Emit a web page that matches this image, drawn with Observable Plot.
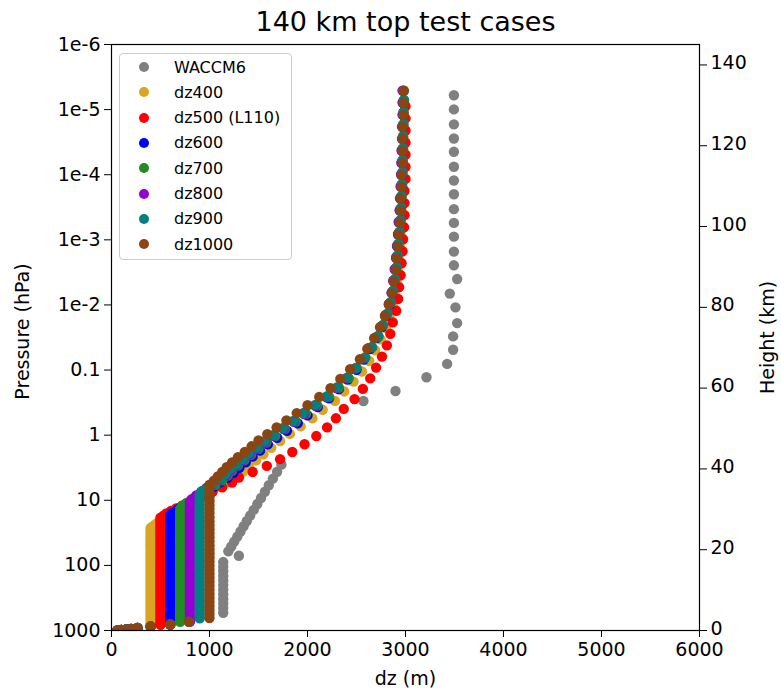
<!DOCTYPE html>
<html>
<head>
<meta charset="utf-8">
<script src="https://cdn.jsdelivr.net/npm/d3@7"></script>
<script src="https://cdn.jsdelivr.net/npm/@observablehq/plot@0.6"></script>
<style>
  body { margin: 0; background: #ffffff; }
  #wrap { position: relative; width: 781px; height: 692px; font-family: "DejaVu Sans", sans-serif; }
  #wrap svg { position: absolute; left: 0; top: 0; }
  #legend { position: absolute; left: 119px; top: 53px; width: 173px; height: 207px; box-sizing: border-box;
            border: 1px solid #cccccc; border-radius: 4px; background: rgba(255,255,255,0.8); }
  .item { position: absolute; left: 0; height: 20px; display: flex; align-items: center; font-size: 16px; color: #000; white-space: nowrap; }
  .sw { width: 10px; height: 10px; border-radius: 50%; margin-left: 19px; margin-right: 25px; }
</style>
</head>
<body>
<div id="wrap"></div>
<script>
// ---------------- data ----------------
const H_KM = 7; // scale height linking the pressure axis and the height axis

const seriesNames  = ["WACCM6", "dz400", "dz500 (L110)", "dz600", "dz700", "dz800", "dz900", "dz1000"];
const seriesColors = ["#808080", "#DAA520", "#FF0000", "#0000FF", "#228B22", "#9400D3", "#008080", "#8B4513"];

// WACCM6: visible points, height (km) and dz (m)
const waccmHeight = [4.4, 5.54, 6.68, 7.82, 8.96, 10.1, 11.24, 12.38, 13.52, 14.66, 15.8, 16.94,
  18.5, 19.6, 20.8, 22.0, 23.25, 24.5, 25.8, 27.1, 28.45, 29.85, 31.3, 32.8, 34.35, 35.95, 37.6, 39.3, 41.05,
  56.8, 59.3, 62.7, 66.0, 69.5, 72.8, 76.1, 80.0, 83.4, 87.0,
  90.4, 93.8, 97.5, 100.9, 104.3, 108.0, 111.4, 114.8, 118.5, 121.8, 125.3, 129.0, 132.5];
const waccmDz = [1140, 1140, 1140, 1140, 1140, 1140, 1140, 1140, 1140, 1140, 1140, 1140,
  1300, 1192, 1222, 1252, 1284, 1316, 1348, 1381, 1415, 1451, 1488, 1526, 1565, 1605, 1647, 1690, 1734,
  2571, 2898, 3214, 3425, 3486, 3486, 3527, 3510, 3452, 3527,
  3494, 3494, 3494, 3494, 3494, 3494, 3494, 3494, 3494, 3494, 3494, 3494, 3494];

// test grids: layer thickness dz (m) of every level, from the surface up
const dz400 = [60, 100, 150, 200, 265,
  400, 400, 400, 400, 400, 400, 400, 400, 400, 400,
  400, 400, 400, 400, 400, 400, 400, 400, 400, 400,
  400, 400, 400, 400, 400, 400, 400, 400, 400, 400,
  400, 400, 400, 400, 400, 400, 400, 400, 400, 400,
  400, 400, 400, 400, 400, 400, 400, 400, 400, 400,
  400, 400, 400, 400, 400, 400, 400, 400, 400, 400,
  400, 400,
  420, 445, 470, 505, 545, 580, 625, 670, 720, 775, 830, 895, 960, 1035, 1110, 1190, 1290, 1340, 1400,
  1475, 1550, 1630, 1720, 1820, 1930, 2050, 2155, 2280, 2375, 2470, 2555, 2630, 2690, 2745, 2800,
  2835, 2870, 2890, 2910, 2920, 2930, 2940, 2950, 2955, 2960, 2965, 2970, 2970, 2975, 2980, 2980,
  2980, 2980, 2985, 2985];

const dz500 = [60, 100, 150, 200, 265, 400,
  500, 500, 500, 500, 500, 500, 500, 500, 500, 500,
  500, 500, 500, 500, 500, 500, 500, 500, 500, 500,
  500, 500, 500, 500, 500, 500, 500, 500, 500, 500,
  500, 500, 500, 500, 500, 500, 500, 500, 500, 500,
  500, 500, 500, 500, 500, 500, 500, 500, 500, 500,
  500, 500, 500, 500,
  530, 560, 605, 660, 720, 790, 860, 940, 1030, 1130, 1230, 1300, 1440, 1585, 1720, 1845, 1970, 2090,
  2200, 2290, 2370, 2480, 2565, 2640, 2700, 2760, 2810, 2845, 2870, 2905, 2925, 2935, 2950, 2960,
  2970, 2975, 2985, 2990, 2990, 2990, 3000, 3000, 3000, 3000, 3000, 3000, 3000];

const dz600 = [60, 100, 150, 200, 265, 400,
  600, 600, 600, 600, 600, 600, 600, 600, 600, 600,
  600, 600, 600, 600, 600, 600, 600, 600, 600, 600,
  600, 600, 600, 600, 600, 600, 600, 600, 600, 600,
  600, 600, 600, 600, 600, 600, 600, 600, 600, 600,
  600, 600, 600, 600, 600, 600,
  620, 665, 700, 750, 800, 855, 915, 980, 1045, 1110, 1185, 1245, 1305, 1370, 1440, 1515, 1595, 1690,
  1790, 1900, 2000, 2105, 2220, 2320, 2410, 2500, 2575, 2640, 2705, 2760, 2800, 2835, 2860, 2880,
  2895, 2905, 2915, 2925, 2935, 2945, 2950, 2955, 2960, 2960, 2965, 2970, 2970, 2975, 2975, 2980];

const dz700 = [60, 100, 150, 200, 265, 400, 600,
  700, 700, 700, 700, 700, 700, 700, 700, 700, 700,
  700, 700, 700, 700, 700, 700, 700, 700, 700, 700,
  700, 700, 700, 700, 700, 700, 700, 700, 700, 700,
  700, 700, 700, 700, 700, 700, 700, 700, 700, 700,
  700,
  720, 765, 815, 865, 925, 990, 1060, 1130, 1185, 1230, 1290, 1355, 1425, 1500, 1580, 1670, 1770,
  1880, 1985, 2100, 2220, 2320, 2420, 2490, 2585, 2660, 2725, 2770, 2810, 2845, 2870, 2890, 2905,
  2915, 2925, 2935, 2945, 2950, 2955, 2960, 2965, 2970, 2970, 2975, 2975, 2980, 2980];

const dz800 = [60, 100, 150, 200, 265, 400, 600,
  800, 800, 800, 800, 800, 800, 800, 800, 800, 800,
  800, 800, 800, 800, 800, 800, 800, 800, 800, 800,
  800, 800, 800, 800, 800, 800, 800, 800, 800, 800,
  800, 800, 800, 800, 800, 800, 800, 800,
  825, 865, 915, 970, 1035, 1105, 1170, 1215, 1275, 1340, 1410, 1480, 1565, 1650, 1755, 1860, 1965,
  2080, 2195, 2295, 2390, 2480, 2570, 2620, 2695, 2755, 2795, 2830, 2860, 2875, 2890, 2905, 2915,
  2925, 2930, 2940, 2945, 2950, 2955, 2960, 2960, 2965, 2965, 2970, 2970, 2970];

const dz900 = [60, 100, 150, 200, 265, 400, 600, 790,
  900, 900, 900, 900, 900, 900, 900, 900, 900, 900,
  900, 900, 900, 900, 900, 900, 900, 900, 900, 900,
  900, 900, 900, 900, 900, 900, 900, 900, 900, 900,
  900, 900, 900, 900, 900,
  925, 985, 1050, 1120, 1165, 1210, 1275, 1340, 1405, 1480, 1560, 1655, 1750, 1860, 1960, 2080, 2200,
  2305, 2405, 2500, 2590, 2655, 2720, 2770, 2815, 2850, 2875, 2895, 2910, 2920, 2930, 2940, 2950,
  2955, 2960, 2965, 2970, 2970, 2975, 2975, 2980, 2980, 2985];

const dz1000 = [60, 100, 150, 200, 265, 400, 600, 790,
  1000, 1000, 1000, 1000, 1000, 1000, 1000, 1000, 1000, 1000,
  1000, 1000, 1000, 1000, 1000, 1000, 1000, 1000, 1000, 1000,
  1000, 1000, 1000, 1000, 1000, 1000, 1000, 1000, 1000, 1000,
  1000, 1000, 1000, 1000,
  1045, 1085, 1130, 1175, 1230, 1290, 1360, 1430, 1500, 1590, 1685, 1785, 1890, 2000, 2120, 2235,
  2335, 2435, 2535, 2610, 2680, 2740, 2790, 2830, 2860, 2880, 2900, 2910, 2920, 2930, 2940, 2950,
  2950, 2960, 2960, 2970, 2970, 2970, 2970, 2980, 2980, 2980];

// axes
const dzTicks = [0, 1000, 2000, 3000, 4000, 5000, 6000];
const pressureTicks  = [1000, 100, 10, 1, 0.1, 1e-2, 1e-3, 1e-4, 1e-5, 1e-6];
const pressureLabels = ["1000", "100", "10", "1", "0.1", "1e-2", "1e-3", "1e-4", "1e-5", "1e-6"];
const heightTicks = [0, 20, 40, 60, 80, 100, 120, 140];

const titleText = "140 km top test cases";
const xLabel = "dz (m)";
const yLabel = "Pressure (hPa)";
const y2Label = "Height (km)";

// ---------------- build ----------------
const hToP = h => 1000 * Math.exp(-h / H_KM);

function gridLevels(dzList) {
  let z = 0;
  return dzList.map(dz => {
    const h = z + dz / 2000; // mid-layer height, km
    z += dz / 1000;
    return {dz, p: hToP(h)};
  });
}

const waccmRows = waccmHeight.map((h, i) => ({dz: waccmDz[i], p: hToP(h)}));
const allSeries = [waccmRows, gridLevels(dz400), gridLevels(dz500), gridLevels(dz600),
                   gridLevels(dz700), gridLevels(dz800), gridLevels(dz900), gridLevels(dz1000)];

const pLabelMap = new Map(pressureTicks.map((p, i) => [p, pressureLabels[i]]));
const heightTickRows = heightTicks.map(h => ({h, p: hToP(h)}));

const chart = Plot.plot({
  width: 781,
  height: 692,
  marginLeft: 111,
  marginRight: 82,
  marginTop: 44,
  marginBottom: 62,
  style: {fontFamily: "DejaVu Sans, sans-serif", fontSize: "19px", color: "black", background: "white"},
  x: {domain: [0, 6000]},
  y: {type: "log", domain: [1000, 1e-6]},
  marks: [
    ...allSeries.map((rows, i) => Plot.dot(rows, {x: "dz", y: "p", r: 5.2, fill: seriesColors[i], stroke: "none", clip: true})),
    Plot.frame({stroke: "black", strokeWidth: 1.2}),
    Plot.axisX({ticks: dzTicks, tickSize: 7, tickPadding: 5, tickFormat: d => String(d), label: null, fontSize: 19}),
    Plot.axisY({anchor: "left", ticks: pressureTicks, tickSize: 7, tickPadding: 4, tickFormat: d => pLabelMap.get(d), label: null, fontSize: 19}),
    // right-hand height axis: tick marks from the axis, labels as text
    Plot.axisY({anchor: "right", ticks: heightTickRows.map(d => d.p), tickSize: 7, tickFormat: () => "", label: null}),
    Plot.text(heightTickRows, {y: "p", text: d => String(d.h), frameAnchor: "right", dx: 11, dy: -2, textAnchor: "start", lineAnchor: "middle", fontSize: 19}),
    Plot.text([titleText], {text: d => d, frameAnchor: "top", dy: -22, lineAnchor: "middle", textAnchor: "middle", fontSize: 27}),
    Plot.text([xLabel], {text: d => d, frameAnchor: "bottom", dy: 48, lineAnchor: "middle", textAnchor: "middle", fontSize: 19}),
    Plot.text([yLabel], {text: d => d, frameAnchor: "left", dx: -89, dy: -6, rotate: -90, textAnchor: "middle", lineAnchor: "middle", fontSize: 19}),
    Plot.text([y2Label], {text: d => d, frameAnchor: "right", dx: 68, rotate: -90, textAnchor: "middle", lineAnchor: "middle", fontSize: 19})
  ]
});

const wrap = document.getElementById("wrap");
wrap.appendChild(chart);

// legend (overlaid in the upper-left corner of the axes)
const legend = document.createElement("div");
legend.id = "legend";
seriesNames.forEach((name, i) => {
  const item = document.createElement("div");
  item.className = "item";
  item.style.top = (3 + 25.3 * i) + "px";
  const sw = document.createElement("span");
  sw.className = "sw";
  sw.style.background = seriesColors[i];
  const label = document.createElement("span");
  label.textContent = name;
  item.appendChild(sw);
  item.appendChild(label);
  legend.appendChild(item);
});
wrap.appendChild(legend);
</script>
</body>
</html>
